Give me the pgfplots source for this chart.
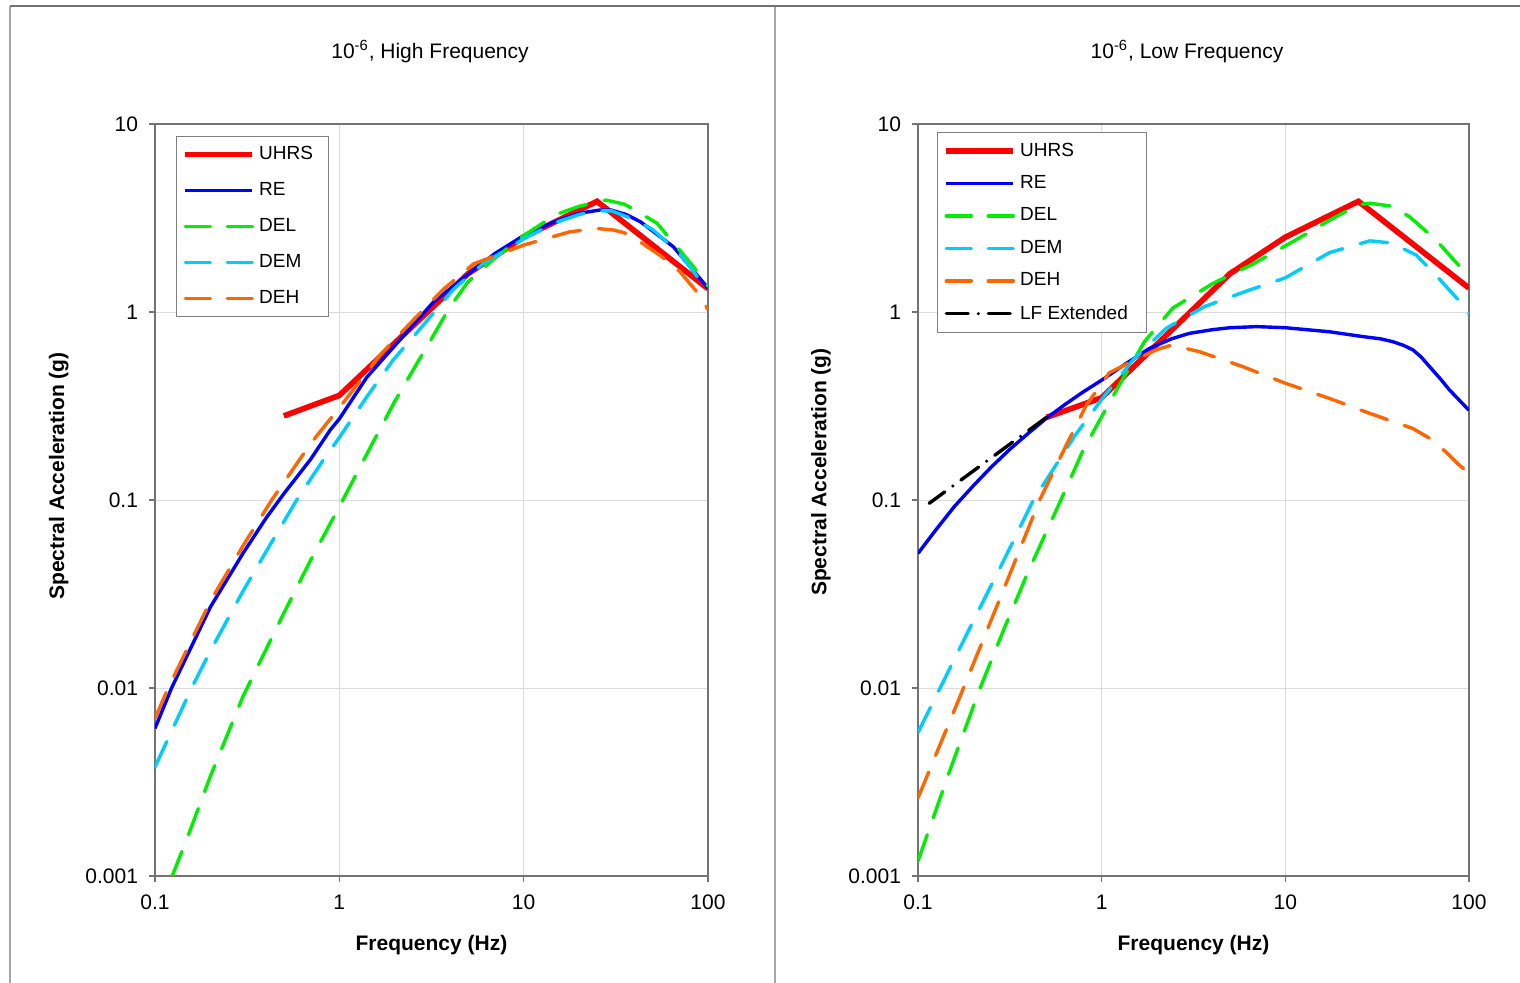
\documentclass[border=0pt]{standalone}
\usepackage{pgfplots}
\pgfplotsset{compat=1.18}
\usepackage{fontspec}
\setmainfont{Liberation Sans}
\definecolor{cRed}{RGB}{255,0,0}
\definecolor{cBlue}{RGB}{0,0,255}
\definecolor{cGreen}{RGB}{0,238,0}
\definecolor{cCyan}{RGB}{0,204,255}
\definecolor{cOrange}{RGB}{255,102,0}
\tikzset{
  uhrs/.style={cRed, line width=2.8pt},
  re/.style={cBlue, line width=1.7pt},
  del/.style={cGreen, line width=1.7pt, line cap=round, dash pattern=on 14pt off 9pt},
  dem/.style={cCyan, line width=1.7pt, line cap=round, dash pattern=on 14pt off 9pt},
  deh/.style={cOrange, line width=1.7pt, line cap=round, dash pattern=on 14pt off 9pt},
  lfe/.style={black, line width=1.7pt, line cap=round, dash pattern=on 11pt off 5pt on 0pt off 5pt},
}
\pgfplotsset{legdash/.style={legend image post style={dash pattern=on 12.5pt off 8.5pt}}}
\begin{document}
\begin{tikzpicture}[x=1pt,y=1pt]
\useasboundingbox (0,0) rectangle (760,491.5);
\fill[white] (0,0) rectangle (760,491.5);
\draw[black!35, line width=0.6pt] (5,-2) -- (5,488.5);
\draw[black!35, line width=0.6pt] (387.5,-2) -- (387.5,488.5);
\draw[black!55, line width=0.8pt] (5,488.5) -- (762,488.5);
\node[font=\fontsize{10.5}{12}\selectfont] at (215,465.5) {10\textsuperscript{-6}, High Frequency};
\node[font=\fontsize{10.5}{12}\selectfont] at (593.5,465.5) {10\textsuperscript{-6}, Low Frequency};

\begin{axis}[at={(77.5pt,53.5pt)}, anchor=south west, width=276.5pt, height=376pt,
    scale only axis,
    xmode=log, ymode=log,
    xmin=0.1, xmax=100, ymin=0.001, ymax=10,
    xtick={0.1,1,10,100}, xticklabels={0.1,1,10,100},
    ytick={0.001,0.01,0.1,1,10}, yticklabels={0.001,0.01,0.1,1,10},
    xminorticks=false, yminorticks=false,
    grid=major, major grid style={black!14, line width=0.5pt},
    axis line style={black!55, line width=1pt},
    tick align=outside, xtick pos=left, ytick pos=left,
    major tick length=3pt, tick style={black!55, line width=0.7pt},
    ticklabel style={font=\fontsize{10.5}{12}\selectfont},
    yticklabel style={xshift=-2pt},
    xticklabel style={yshift=-3pt},
    xlabel={Frequency (Hz)},
    xlabel style={at={(axis description cs:0.5,0)}, anchor=center, yshift=-34.5pt, font=\fontsize{10.5}{12}\selectfont\bfseries},
    ylabel={Spectral Acceleration (g)},
    ylabel style={at={(axis description cs:-0.174,0.532)}, anchor=center, font=\fontsize{10.5}{12}\selectfont\bfseries},
    legend image code/.code={\draw[#1] (0pt,0pt) -- (33.5pt,0pt);},
    legend style={at={(axis description cs:0.038,0.984)}, anchor=north west, draw=black!50, line width=0.5pt, fill=white,
      font=\fontsize{9.5}{11}\selectfont, cells={anchor=west},
      inner xsep=3pt, inner ysep=3pt, row sep=5.9pt}]
\addplot[uhrs] coordinates {(0.5,0.28) (1,0.36) (5,1.6) (10,2.5) (25,3.88) (100,1.33)};
\addlegendentry{\mbox{UHRS\kern3pt}}
\addplot[re] coordinates {(0.1,0.0061) (0.123,0.0100) (0.15,0.015) (0.2,0.027) (0.3,0.052) (0.4,0.08) (0.5,0.108) (0.7,0.165) (0.89,0.235) (1,0.27) (1.41,0.45) (2.13,0.71) (3.24,1.13) (5.33,1.67) (7,2.05) (10,2.55) (15,3.05) (20,3.35) (26,3.49) (30,3.48) (36,3.3) (43,3.02) (50,2.7) (65,2.22) (100,1.34)};
\addlegendentry{RE}
\addplot[del, legdash] coordinates {(0.1,0.00058) (0.124,0.001) (0.15,0.0016) (0.2,0.0034) (0.3,0.009) (0.5,0.025) (0.7,0.048) (1,0.092) (1.5,0.197) (2,0.335) (3,0.66) (4,1.07) (5,1.45) (7,1.94) (10,2.55) (15,3.3) (20,3.65) (28,3.94) (35,3.75) (40,3.5) (53,2.96) (70,2.14) (89,1.61) (100,1.37)};
\addlegendentry{DEL}
\addplot[dem, legdash] coordinates {(0.1,0.0038) (0.158,0.010) (0.2,0.0158) (0.3,0.0327) (0.4,0.053) (0.587,0.1) (0.818,0.163) (1,0.215) (1.41,0.354) (1.96,0.556) (2.86,0.853) (4.16,1.32) (6,1.8) (10,2.45) (15,3.0) (20,3.3) (25,3.45) (30,3.45) (40,3.1) (50,2.75) (70,2.05) (100,1.3)};
\addlegendentry{DEM}
\addplot[deh, legdash] coordinates {(0.1,0.0069) (0.118,0.010) (0.2,0.029) (0.3,0.057) (0.43,0.1) (0.7,0.2) (1,0.31) (1.19,0.385) (1.66,0.59) (2.52,0.906) (3.67,1.32) (5.33,1.8) (10,2.27) (17.8,2.67) (25,2.78) (30.8,2.73) (37,2.6) (55,2.0) (70,1.65) (90,1.23) (100,1.03)};
\addlegendentry{DEH}
\end{axis}

\begin{axis}[at={(459pt,53.5pt)}, anchor=south west, width=275.5pt, height=376pt,
    scale only axis,
    xmode=log, ymode=log,
    xmin=0.1, xmax=100, ymin=0.001, ymax=10,
    xtick={0.1,1,10,100}, xticklabels={0.1,1,10,100},
    ytick={0.001,0.01,0.1,1,10}, yticklabels={0.001,0.01,0.1,1,10},
    xminorticks=false, yminorticks=false,
    grid=major, major grid style={black!14, line width=0.5pt},
    axis line style={black!55, line width=1pt},
    tick align=outside, xtick pos=left, ytick pos=left,
    major tick length=3pt, tick style={black!55, line width=0.7pt},
    ticklabel style={font=\fontsize{10.5}{12}\selectfont},
    yticklabel style={xshift=-2pt},
    xticklabel style={yshift=-3pt},
    xlabel={Frequency (Hz)},
    xlabel style={at={(axis description cs:0.5,0)}, anchor=center, yshift=-34.5pt, font=\fontsize{10.5}{12}\selectfont\bfseries},
    ylabel={Spectral Acceleration (g)},
    ylabel style={at={(axis description cs:-0.176,0.537)}, anchor=center, font=\fontsize{10.5}{12}\selectfont\bfseries},
    legend image code/.code={\draw[#1] (0pt,0pt) -- (33.5pt,0pt);},
    legend style={at={(axis description cs:0.0345,0.989)}, anchor=north west, draw=black!50, line width=0.5pt, fill=white,
      font=\fontsize{9.5}{11}\selectfont, cells={anchor=west},
      inner xsep=3pt, inner ysep=3pt, row sep=4.2pt}]
\addplot[uhrs] coordinates {(0.5,0.275) (1,0.35) (5,1.6) (10,2.5) (25,3.88) (100,1.34)};
\addlegendentry{UHRS}
\addplot[re] coordinates {(0.1,0.052) (0.126,0.070) (0.158,0.0925) (0.2,0.119) (0.251,0.150) (0.316,0.186) (0.398,0.226) (0.5,0.272) (0.631,0.322) (0.794,0.376) (1,0.434) (1.35,0.53) (1.82,0.64) (2.4,0.72) (3,0.77) (4,0.805) (5,0.825) (7,0.836) (10,0.825) (17.4,0.785) (26.4,0.74) (33,0.72) (38.5,0.695) (44,0.665) (49.6,0.628) (55,0.575) (61,0.512) (70,0.44) (78.3,0.385) (100,0.30)};
\addlegendentry{RE}
\addplot[del, legdash] coordinates {(0.1,0.0012) (0.15,0.0037) (0.218,0.01) (0.3,0.0216) (0.4,0.042) (0.6,0.1) (0.785,0.18) (0.955,0.256) (1.25,0.41) (1.71,0.695) (2.44,1.05) (4.04,1.42) (6.67,1.8) (11,2.37) (18.2,3.15) (25,3.72) (28.8,3.79) (37.8,3.66) (47.5,3.21) (66,2.42) (92.7,1.67) (100,1.48)};
\addlegendentry{DEL}
\addplot[dem, legdash] coordinates {(0.1,0.0058) (0.132,0.01) (0.2,0.0227) (0.3,0.050) (0.425,0.1) (0.713,0.219) (1.01,0.347) (1.48,0.556) (2.25,0.82) (3.64,1.07) (6.25,1.30) (10,1.52) (17.4,2.07) (28.8,2.39) (37.8,2.33) (51.6,2.01) (66,1.57) (92.7,1.09) (100,0.976)};
\addlegendentry{DEM}
\addplot[deh, legdash] coordinates {(0.1,0.0026) (0.177,0.01) (0.3,0.0355) (0.46,0.1) (0.642,0.196) (0.826,0.32) (1.1,0.475) (1.5,0.553) (1.99,0.63) (2.4,0.667) (3.41,0.615) (5.87,0.512) (10,0.418) (17.4,0.347) (28.8,0.289) (49.5,0.24) (61,0.213) (75,0.18) (88.7,0.153) (100,0.139)};
\addlegendentry{DEH}
\addplot[lfe] coordinates {(0.5,0.275) (0.115,0.096)};
\addlegendentry{\mbox{LF Extended\kern4.5pt}}
\end{axis}
\end{tikzpicture}
\end{document}
